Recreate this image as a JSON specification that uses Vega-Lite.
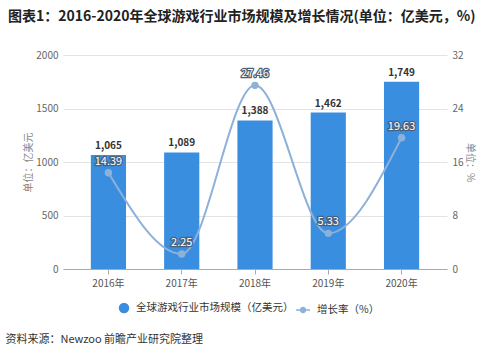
{
  "$schema": "https://vega.github.io/schema/vega-lite/v6.json",
  "autosize": "none",
  "width": 384,
  "height": 214,
  "padding": {"left": 63, "top": 55, "right": 52, "bottom": 87},
  "background": "white",
  "config": {
    "font": "Noto Sans CJK SC",
    "view": {"stroke": null},
    "axis": {"labelFont": "Noto Sans CJK SC", "titleFont": "Noto Sans CJK SC"},
    "legend": {"labelFont": "Noto Sans CJK SC"}
  },
  "title": {
    "text": "图表1：2016-2020年全球游戏行业市场规模及增长情况(单位：亿美元，%)",
    "anchor": "start",
    "frame": "group",
    "dx": -55,
    "offset": 26,
    "fontSize": 14,
    "fontWeight": "bold",
    "color": "#222222"
  },
  "data": {
    "values": [
      {"year": "2016年", "size": 1065, "rate": 14.39},
      {"year": "2017年", "size": 1089, "rate": 2.25},
      {"year": "2018年", "size": 1388, "rate": 27.46},
      {"year": "2019年", "size": 1462, "rate": 5.33},
      {"year": "2020年", "size": 1749, "rate": 19.63}
    ]
  },
  "layer": [
    {
      "layer": [
        {
          "mark": {"type": "bar"},
          "encoding": {
            "x": {
              "field": "year", "type": "nominal", "sort": null,
              "scale": {"paddingInner": 0.52, "paddingOuter": 0.38},
              "axis": {
                "labelAngle": 0, "labelFontSize": 10, "labelColor": "#555555", "labelPadding": 4,
                "domainColor": "#aaaaaa", "tickColor": "#aaaaaa", "tickSize": 5, "tickBand": "center",
                "title": "资料来源：Newzoo 前瞻产业研究院整理",
                "titleFontSize": 11, "titleFontWeight": "normal", "titleColor": "#333333",
                "titleAnchor": "start", "titleAlign": "left", "titleBaseline": "middle",
                "titleX": -58, "titleY": 70
              }
            },
            "y": {
              "field": "size", "type": "quantitative",
              "scale": {"domain": [0, 2000], "nice": false},
              "axis": {
                "values": [0, 500, 1000, 1500, 2000], "format": "d", "grid": true, "gridColor": "#e3e3e3",
                "domain": false, "ticks": false, "labelPadding": 5, "labelFontSize": 10, "labelColor": "#666666",
                "title": "单位：亿美元", "titleFontSize": 10, "titleFontWeight": "normal", "titleColor": "#888888",
                "titlePadding": 2
              }
            },
            "color": {
              "datum": "全球游戏行业市场规模（亿美元）",
              "scale": {"range": ["#3a8ee0"]},
              "legend": {
                "orient": "none", "legendX": 55, "legendY": 247, "title": null,
                "symbolType": "circle", "symbolSize": 110, "labelFontSize": 10.5, "labelColor": "#333333",
                "labelOffset": 6, "labelLimit": 300
              }
            }
          }
        },
        {
          "mark": {"type": "text", "baseline": "bottom", "dy": -4, "fontSize": 10, "fontWeight": "bold", "color": "#333333"},
          "encoding": {
            "x": {"field": "year", "type": "nominal", "sort": null},
            "y": {"field": "size", "type": "quantitative"},
            "text": {"field": "size", "type": "quantitative", "format": ","}
          }
        }
      ]
    },
    {
      "layer": [
        {
          "mark": {"type": "line", "interpolate": "monotone", "strokeWidth": 2},
          "encoding": {
            "x": {"field": "year", "type": "nominal", "sort": null},
            "y": {
              "field": "rate", "type": "quantitative",
              "scale": {"domain": [0, 32], "nice": false},
              "axis": {
                "orient": "right", "values": [0, 8, 16, 24, 32], "grid": false,
                "domain": false, "ticks": false, "labelPadding": 5, "labelFontSize": 10, "labelColor": "#666666",
                "title": "单位：%", "titleFontSize": 10, "titleFontWeight": "normal", "titleColor": "#888888",
                "titlePadding": 1, "titleAngle": 90
              }
            },
            "stroke": {
              "datum": "增长率（%）",
              "scale": {"range": ["#8db1d8"]},
              "legend": {
                "orient": "none", "legendX": 232, "legendY": 247, "title": null,
                "symbolType": "M-1,0L-0.35,0M0.35,0L1,0M-0.35,0A0.35,0.35 0 1,0 0.35,0A0.35,0.35 0 1,0 -0.35,0",
                "symbolFillColor": "#8db1d8", "symbolStrokeWidth": 1.5, "symbolSize": 200,
                "labelFontSize": 10.5, "labelColor": "#333333", "labelOffset": 6, "labelLimit": 200
              }
            }
          }
        },
        {
          "mark": {"type": "point", "filled": true, "size": 55, "color": "#8db1d8", "opacity": 1},
          "encoding": {
            "x": {"field": "year", "type": "nominal", "sort": null},
            "y": {"field": "rate", "type": "quantitative"}
          }
        },
        {
          "mark": {"type": "text", "baseline": "middle", "dy": -11, "fontSize": 11, "stroke": "#4a5f78", "strokeWidth": 2.5, "fill": "#4a5f78"},
          "encoding": {
            "x": {"field": "year", "type": "nominal", "sort": null},
            "y": {"field": "rate", "type": "quantitative"},
            "text": {"field": "rate", "type": "quantitative", "format": ".2f"}
          }
        },
        {
          "mark": {"type": "text", "baseline": "middle", "dy": -11, "fontSize": 11, "fill": "white"},
          "encoding": {
            "x": {"field": "year", "type": "nominal", "sort": null},
            "y": {"field": "rate", "type": "quantitative"},
            "text": {"field": "rate", "type": "quantitative", "format": ".2f"}
          }
        }
      ]
    }
  ],
  "resolve": {"scale": {"y": "independent"}}
}
